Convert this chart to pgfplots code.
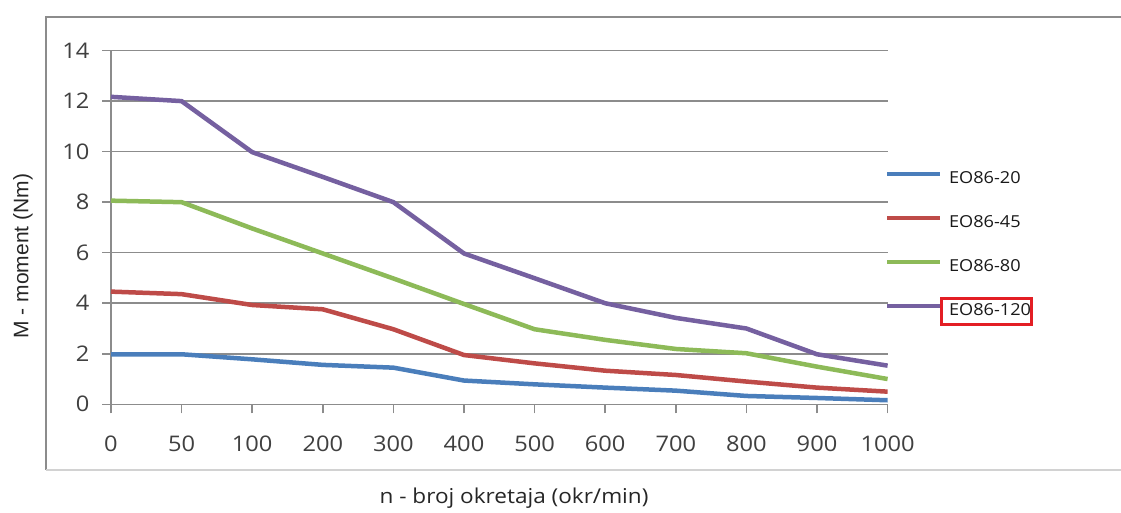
\documentclass[border=0pt]{standalone}
\usepackage{pgfplots}
\pgfplotsset{compat=1.18}
\usepackage{fontspec}
\setmainfont{Open Sans}[FakeStretch=1.1]
\newfontfamily\arialfont{Liberation Sans}
\definecolor{cBlue}{HTML}{4A7EBB}
\definecolor{cRed}{HTML}{BE4B48}
\definecolor{cGreen}{HTML}{8DBA58}
\definecolor{cPurple}{HTML}{7560A0}
\definecolor{gridgray}{HTML}{8C8C8C}
\definecolor{tickgray}{HTML}{404040}
\definecolor{boxred}{HTML}{E31E24}
\begin{document}
\begin{tikzpicture}
\useasboundingbox (0pt,0pt) rectangle (1121pt,513pt);
\fill[white] (0pt,0pt) rectangle (1121pt,513pt);
\draw[color=gridgray, line width=1.8pt] (1121pt,496.3pt) -- (46pt,496.3pt) -- (46pt,43pt);
\draw[color=gray!35, line width=1.2pt] (46pt,43pt) -- (1121pt,43pt);
\begin{axis}[
  at={(111pt,108.7pt)}, anchor=south west,
  scale only axis, width=776.6pt, height=353.7pt,
  xmin=0, xmax=11, ymin=0, ymax=14,
  axis x line*=bottom, axis y line*=left,
  axis line style={color=gridgray, line width=1.5pt},
  ymajorgrids, grid style={color=gridgray, line width=1.5pt},
  xtick={0,...,11},
  xticklabels={0,50,100,200,300,400,500,600,700,800,900,1000},
  ytick={0,2,...,14},
  tick align=outside, major tick length=9pt,
  tick style={color=gridgray, line width=1.5pt},
  tick label style={font=\fontsize{21.5}{25}\selectfont, color=tickgray},
  xticklabel style={yshift=-19pt},
  yticklabel style={xshift=-9pt},
  /pgf/number format/assume math mode=true,
  xlabel={n - broj okretaja (okr/min)},
  xlabel style={at={(axis description cs:0.519,-0.265)}, anchor=center, font=\fontsize{20.5}{24}\selectfont, color=black!85},
  ylabel={M - moment (Nm)},
  ylabel style={at={(axis description cs:-0.1133,0.419)}, anchor=center, font=\arialfont\fontsize{21}{25}\selectfont, color=black!85},
  clip=false,
  legend cell align=left,
  legend style={at={(axis description cs:0.9967,0.6568)}, anchor=north west, draw=none, fill=none, inner sep=0pt, outer sep=0pt,
    row sep=32pt, column sep=7pt,
    nodes={inner sep=0pt, outer sep=0pt, text height=12pt, text depth=0pt, font=\fontsize{16.5}{19}\selectfont, color=black!90}},
  legend image code/.code={\draw[#1, line width=4pt] (0pt,4pt) -- (53pt,4pt);},
]
\addplot[cBlue, line width=4.5pt, line join=round] coordinates {
 (0,1.98) (1,1.98) (2,1.78) (3,1.56) (4,1.45) (5,0.94) (6,0.79) (7,0.66) (8,0.54) (9,0.33) (10,0.25) (11,0.16)};
\addplot[cRed, line width=4.5pt, line join=round] coordinates {
 (0,4.46) (1,4.36) (2,3.93) (3,3.76) (4,2.97) (5,1.95) (6,1.62) (7,1.33) (8,1.16) (9,0.9) (10,0.66) (11,0.5)};
\addplot[cGreen, line width=4.5pt, line join=round] coordinates {
 (0,8.06) (1,8.0) (2,6.96) (3,5.97) (4,4.98) (5,3.97) (6,2.97) (7,2.55) (8,2.19) (9,2.02) (10,1.49) (11,1.0)};
\addplot[cPurple, line width=4.5pt, line join=round] coordinates {
 (0,12.17) (1,12.0) (2,9.98) (3,9.0) (4,8.0) (5,5.97) (6,4.99) (7,4.0) (8,3.42) (9,3.0) (10,1.98) (11,1.53)};
\legend{EO86-20,EO86-45,EO86-80,EO86-120}
\end{axis}
\draw[color=boxred, line width=3pt] (941pt,188pt) rectangle (1031pt,214pt);
\end{tikzpicture}
\end{document}
